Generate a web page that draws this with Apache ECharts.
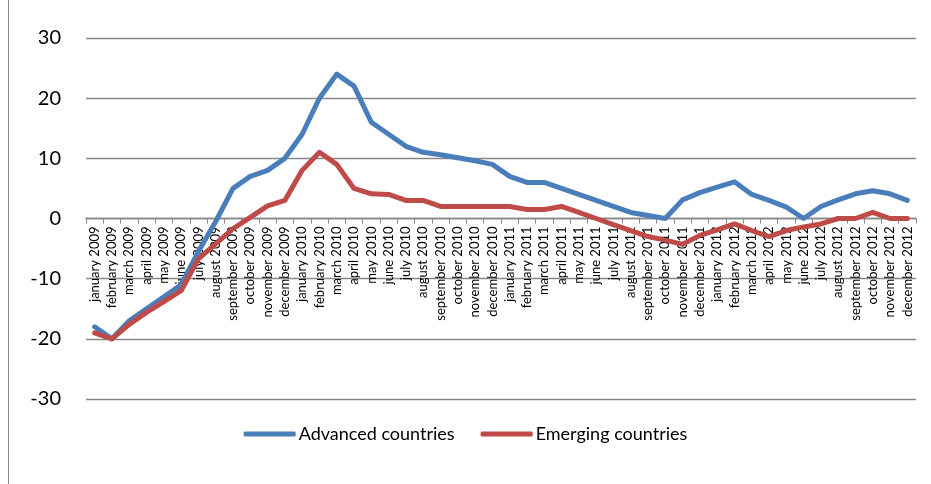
<!DOCTYPE html>
<html>
<head>
<meta charset="utf-8">
<script src="https://cdn.jsdelivr.net/npm/echarts@6/dist/echarts.min.js"></script>
<style>
  html, body { margin: 0; padding: 0; background: #fff; }
  #chart { width: 931px; height: 484px; }
</style>
</head>
<body>
<div id="chart"></div>
<script>
// Monthly categories, January 2009 to December 2012
const months = ['january', 'february', 'march', 'april', 'may', 'june', 'july',
  'august', 'september', 'october', 'november', 'december'];
const years = [2009, 2010, 2011, 2012];
const categories = [];
years.forEach(y => months.forEach(m => categories.push(m + ' ' + y)));

// Year-on-year change, %
const advanced = [
  -18, -20, -17, -15, -13, -11, -5.5, -0.5, 5, 7, 8, 10,
  14, 20, 24, 22, 16, 14, 12, 11, 10.6, 10.1, 9.6, 9,
  7, 6, 6, 5, 4, 3, 2, 1, 0.5, 0, 3.1, 4.3,
  5.2, 6.1, 4, 3, 1.9, 0, 2, 3.1, 4.1, 4.6, 4.1, 3
];
const emerging = [
  -19, -20, -17.6, -15.6, -13.8, -12, -6.7, -4.2, -1.7, 0.2, 2.1, 3,
  8, 11, 9, 5, 4.1, 4, 3, 3, 2, 2, 2, 2,
  2, 1.5, 1.5, 2, 1, 0, -1, -2, -3, -3.6, -4.3, -2.8,
  -1.9, -0.9, -2, -3, -2, -1.4, -0.9, 0, 0, 1, 0, 0
];

const yTicks = { min: -30, max: 30, step: 10 };
const seriesNames = ['Advanced countries', 'Emerging countries'];
const seriesColors = ['#4A7EBB', '#BE4B48'];

const font = 'Lato, "Open Sans", "Liberation Sans", sans-serif';
const gridColor = '#878787';

// Plot area box
const W = 931, H = 484;
const grid = { left: 86, right: 15, top: 38, bottom: 85 };
const plotH = H - grid.top - grid.bottom;
// Lift the category axis (line, ticks and labels) up to the zero value
const zeroOffset = -plotH * (0 - yTicks.min) / (yTicks.max - yTicks.min);

const chart = echarts.init(document.getElementById('chart'), null, { renderer: 'canvas' });

chart.setOption({
  animation: false,
  backgroundColor: '#ffffff',
  textStyle: { fontFamily: font },
  graphic: [{
    type: 'line',
    shape: { x1: 8.5, y1: 0, x2: 8.5, y2: H },
    style: { stroke: '#8c8c8c', lineWidth: 1 }
  }],
  grid: Object.assign({ outerBoundsMode: 'none', containLabel: false }, grid),
  legend: {
    bottom: 36,
    left: 'center',
    itemWidth: 52,
    itemHeight: 5,
    itemGap: 26,
    icon: 'roundRect',
    textStyle: { fontSize: 18, color: '#000', fontFamily: font, padding: [0, 0, 0, -2] },
    data: seriesNames
  },
  xAxis: {
    type: 'category',
    data: categories,
    boundaryGap: true,
    offset: zeroOffset,
    axisLine: { onZero: false, lineStyle: { color: gridColor, width: 1.3 } },
    axisTick: { show: true, interval: 0, length: 5, lineStyle: { color: gridColor } },
    axisLabel: {
      interval: 0,
      rotate: 90,
      margin: 8,
      fontSize: 13,
      color: '#000',
      fontFamily: font
    },
    splitLine: { show: false }
  },
  yAxis: {
    type: 'value',
    min: yTicks.min,
    max: yTicks.max,
    interval: yTicks.step,
    axisLine: { show: false },
    axisTick: { show: false },
    axisLabel: { fontSize: 20, color: '#000', margin: 25, fontFamily: font },
    splitLine: { lineStyle: { color: gridColor, width: 1.3 } }
  },
  series: [
    {
      name: seriesNames[0],
      type: 'line',
      data: advanced,
      symbol: 'none',
      color: seriesColors[0],
      lineStyle: { width: 5, color: seriesColors[0], cap: 'round', join: 'round' }
    },
    {
      name: seriesNames[1],
      type: 'line',
      data: emerging,
      symbol: 'none',
      color: seriesColors[1],
      lineStyle: { width: 5, color: seriesColors[1], cap: 'round', join: 'round' }
    }
  ]
});
</script>
</body>
</html>
